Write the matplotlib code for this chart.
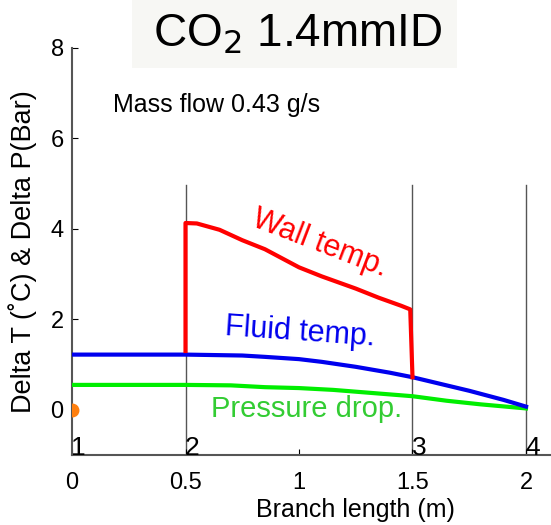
import matplotlib
matplotlib.use("Agg")
import matplotlib.pyplot as plt
from matplotlib.patches import Rectangle

plt.rcParams['font.family'] = ['Liberation Sans', 'DejaVu Sans']

# Data
wall_x = [0.5, 0.5, 0.55, 0.65, 0.75, 0.85, 1.0, 1.1, 1.25, 1.35, 1.45, 1.49, 1.5]
wall_y = [1.3, 4.13, 4.12, 3.98, 3.75, 3.55, 3.15, 2.95, 2.68, 2.48, 2.3, 2.22, 0.72]
fluid_x = [0.0, 0.5, 0.75, 0.85, 1.0, 1.1, 1.25, 1.4, 1.5, 1.6, 1.75, 1.9, 2.0]
fluid_y = [1.22, 1.22, 1.2, 1.17, 1.12, 1.06, 0.95, 0.82, 0.72, 0.6, 0.42, 0.22, 0.07]
press_x = [0.0, 0.5, 0.7, 0.85, 1.0, 1.15, 1.3, 1.5, 1.65, 1.8, 2.0]
press_y = [0.55, 0.55, 0.54, 0.5, 0.48, 0.44, 0.38, 0.3, 0.2, 0.12, 0.03]
branch_x = [0.5, 1.5, 2.0]
node_x = [0.0, 0.5, 1.5, 2.0]
node_labels = ["1", "2", "3", "4"]
xticks = [0, 0.5, 1, 1.5, 2]
xticklabels = ["0", "0.5", "1", "1.5", "2"]
yticks = [0, 2, 4, 6, 8]

W, H = 551, 525
fig = plt.figure(figsize=(W / 100, H / 100), dpi=100)
ax = fig.add_axes([72 / W, 1 - 455 / H, 479 / W, (455 - 48) / H])
ax.set_xlim(0, 479 / 227)
ax.set_ylim(-1, 8)

for s in ['top', 'right']:
    ax.spines[s].set_visible(False)
for s in ['left', 'bottom']:
    ax.spines[s].set_color('#555555')
    ax.spines[s].set_linewidth(1.5)

for bx in branch_x:
    ax.plot([bx, bx], [-1, 4.97], color='#555555', lw=1.0, zorder=1)

ax.plot(press_x, press_y, color='#00ee00', lw=3, zorder=3)
ax.plot(fluid_x, fluid_y, color='#0000ee', lw=3, zorder=4)
ax.plot(wall_x, wall_y, color='#ff0000', lw=3, zorder=5)
ax.plot([0], [0], 'o', color='#ff7f0e', ms=9, zorder=6, clip_on=True)

for nx, nl in zip(node_x, node_labels):
    ax.text(nx - 0.003, -1.0, nl, fontsize=19, ha='left', va='baseline', color='black')

ax.set_xticks(xticks)
ax.set_xticklabels(xticklabels)
ax.set_yticks(yticks)
ax.tick_params(direction='in', length=4, labelsize=17)
ax.tick_params(axis='x', pad=12)
ax.tick_params(axis='y', pad=6)

ax.set_xlabel('Branch length (m)', fontsize=18, x=(355 - 72) / 479, labelpad=3)
ax.set_ylabel('Delta T (˚C) & Delta P(Bar)', fontsize=19.5, labelpad=10)

ax.text(0.179, 6.59, 'Mass flow 0.43 g/s', fontsize=18, ha='left', va='baseline')
ax.text(1.093, 3.67, 'Wall temp.', fontsize=22, color='#ff0000', rotation=-21,
        ha='center', va='center')
ax.text(1.004, 1.72, 'Fluid temp.', fontsize=22, color='#0000ee', rotation=-4,
        ha='center', va='center')
ax.text(1.035, -0.155, 'Pressure drop.', fontsize=21, color='#33cc33',
        ha='center', va='baseline')

fig.patches.append(Rectangle((132 / W, 1 - 68 / H), (457 - 132) / W, 68 / H,
                             transform=fig.transFigure, facecolor='#f7f7f4',
                             edgecolor='none', zorder=0))
fig.text(298 / W, 1 - 46 / H, r'CO$_2$ 1.4mmID', fontsize=33, ha='center',
         va='baseline')

fig.savefig('out.png', dpi=100)
